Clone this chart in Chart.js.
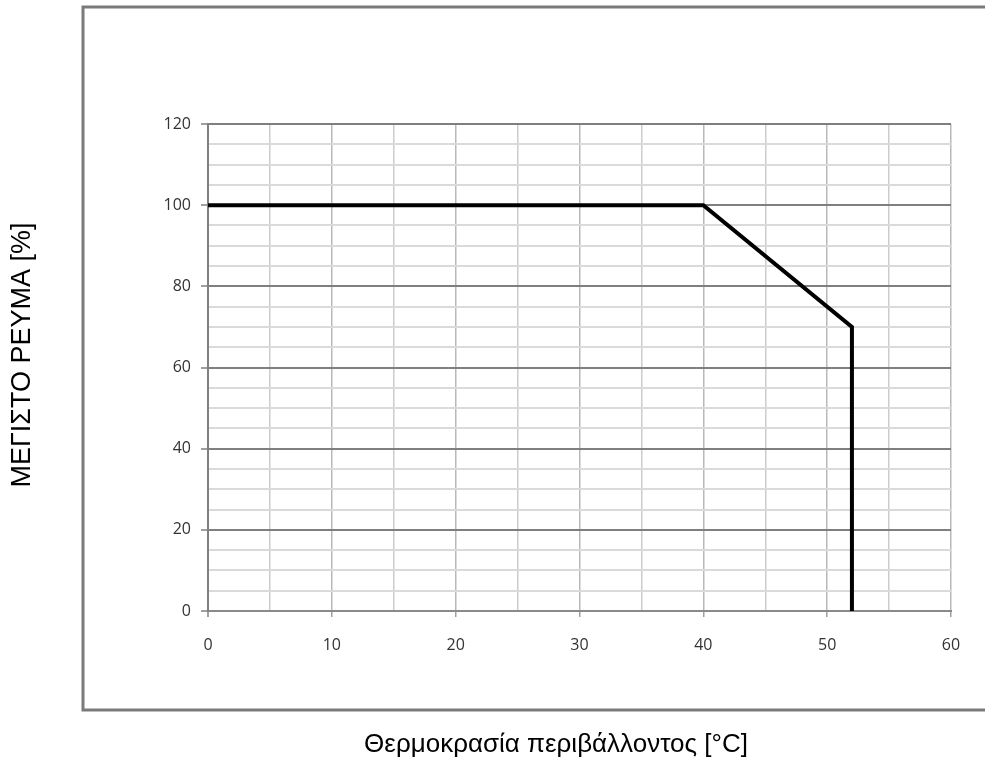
<!DOCTYPE html>
<html>
<head>
<meta charset="utf-8">
<script src="https://cdn.jsdelivr.net/npm/chart.js@4.4.1/dist/chart.umd.min.js"></script>
<style>
  html, body { margin: 0; padding: 0; background: #fff; }
  #wrap { position: relative; width: 985px; height: 757px; }
</style>
</head>
<body>
<div id="wrap"><canvas id="grafico"></canvas></div>
<script>
// Dados da curva (temperatura ambiente x corrente máxima)
const temperaturas = [0, 40, 52, 52];
const correntes = [100, 100, 70, 0];

// Rótulos dos eixos
const ticksX = [0, 10, 20, 30, 40, 50, 60];
const ticksY = [0, 20, 40, 60, 80, 100, 120];

const tituloX = 'Θερμοκρασία περιβάλλοντος [°C]';
const tituloY = 'ΜΕΓΙΣΤΟ ΡΕΥΜΑ [%]';

const pontos = temperaturas.map((t, i) => ({ x: t, y: correntes[i] }));

// Moldura externa e títulos dos eixos
const molduraPlugin = {
    id: 'moldura',
    beforeDraw(chart) {
        const ctx = chart.ctx;
        ctx.save();
        ctx.strokeStyle = '#7a7a7a';
        ctx.lineWidth = 3;
        ctx.beginPath();
        ctx.moveTo(990, 7);
        ctx.lineTo(83, 7);
        ctx.lineTo(83, 710);
        ctx.lineTo(990, 710);
        ctx.stroke();
        ctx.restore();
    },
    afterDraw(chart) {
        const ctx = chart.ctx;
        ctx.save();
        ctx.fillStyle = '#000';
        ctx.textAlign = 'center';
        ctx.textBaseline = 'middle';
        ctx.font = '26px "Liberation Sans", Arial, sans-serif';
        ctx.fillText(tituloX, 556, 745);
        ctx.font = '27px "Liberation Sans", Arial, sans-serif';
        ctx.translate(23, 355);
        ctx.rotate(-Math.PI / 2);
        ctx.fillText(tituloY, 0, 0);
        ctx.restore();
    }
};

const ctx = document.getElementById('grafico').getContext('2d');
new Chart(ctx, {
    type: 'scatter',
    data: {
        datasets: [{
            data: pontos,
            showLine: true,
            borderColor: '#000',
            borderWidth: 4,
            pointRadius: 0,
            tension: 0
        }]
    },
    options: {
        responsive: true,
        maintainAspectRatio: false,
        animation: false,
        layout: { padding: { left: 148, top: 124, right: 34, bottom: 0 } },
        plugins: {
            legend: { display: false },
            tooltip: { enabled: false }
        },
        scales: {
            x: {
                type: 'linear',
                min: 0,
                max: 60,
                afterFit: (s) => { s.height = 146; },
                afterBuildTicks: (s) => {
                    s.ticks = [];
                    for (let v = 0; v <= 60; v += 5) s.ticks.push({ value: v });
                },
                border: { color: '#8a8a8a', width: 2 },
                grid: {
                    color: (c) => c.tick && c.tick.value === 0 ? '#808080' : (c.tick && c.tick.value % 10 === 0 ? '#b8b8b8' : '#cccccc'),
                    lineWidth: (c) => c.tick && c.tick.value === 0 ? 2 : 1.5,
                    tickLength: 6,
                    tickColor: (c) => c.tick && c.tick.value % 10 === 0 ? '#a0a0a0' : 'rgba(0,0,0,0)'
                },
                ticks: {
                    autoSkip: false,
                    maxRotation: 0,
                    padding: 19,
                    color: '#333333',
                    font: { family: '"Open Sans", sans-serif', size: 16 },
                    callback: (v) => ticksX.includes(v) ? String(v) : ''
                }
            },
            y: {
                type: 'linear',
                min: 0,
                max: 120,
                afterFit: (s) => { s.width = 60; },
                afterBuildTicks: (s) => {
                    s.ticks = [];
                    for (let v = 0; v <= 120; v += 5) s.ticks.push({ value: v });
                },
                border: { color: '#808080', width: 2 },
                grid: {
                    color: (c) => c.tick && c.tick.value % 20 === 0 ? '#7f7f7f' : '#dadada',
                    lineWidth: 2,
                    tickLength: 7,
                    tickColor: (c) => c.tick && c.tick.value % 20 === 0 ? '#a0a0a0' : 'rgba(0,0,0,0)'
                },
                ticks: {
                    autoSkip: false,
                    padding: 10,
                    color: '#333333',
                    font: { family: '"Open Sans", sans-serif', size: 16 },
                    callback: (v) => ticksY.includes(v) ? String(v) : ''
                }
            }
        }
    },
    plugins: [molduraPlugin]
});
</script>
</body>
</html>
